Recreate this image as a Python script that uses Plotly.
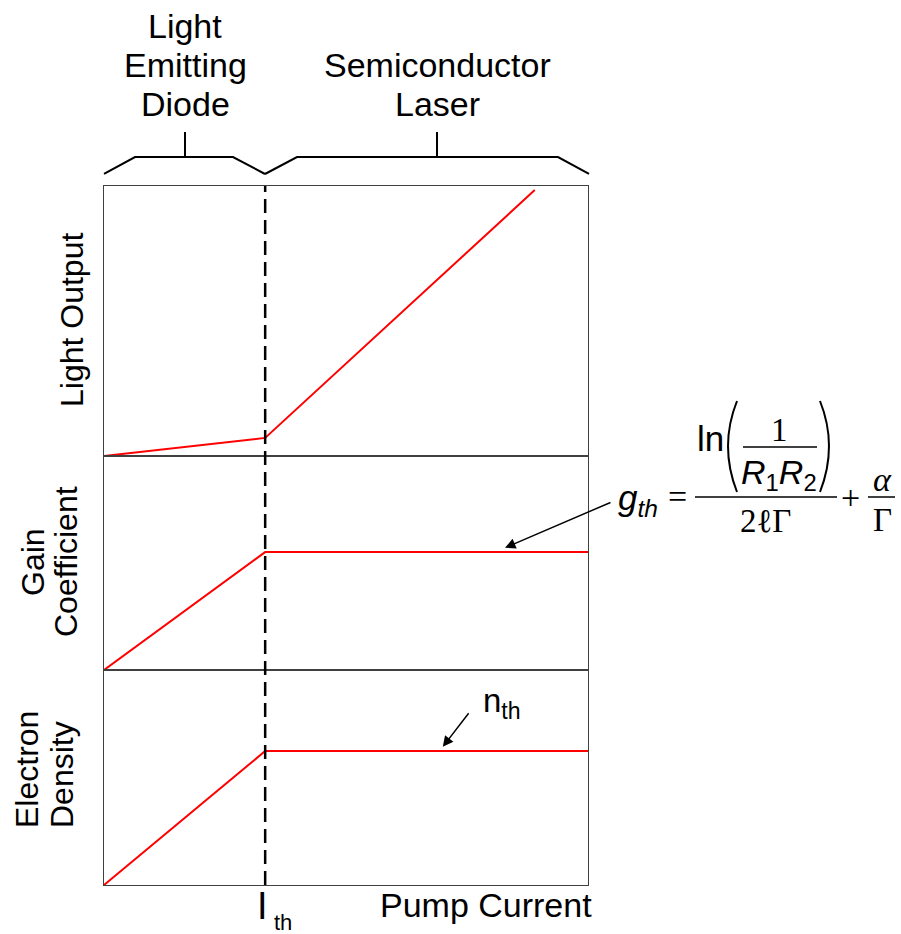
import plotly.graph_objects as go
from plotly.subplots import make_subplots

# ---------------- data (normalised units) ----------------
I_TH = 0.333                       # threshold current (fraction of axis)
light_x = [0.0, I_TH, 0.89]
light_y = [0.0, 0.067, 0.985]
gain_x = [0.0, I_TH, 1.0]
gain_y = [0.0, 0.551, 0.551]
dens_x = [0.0, I_TH, 1.0]
dens_y = [0.0, 0.623, 0.623]
panel_labels = ["Light Output", ["Gain", "Coefficient"], ["Electron", "Density"]]
region_labels = [["Light", "Emitting", "Diode"], ["Semiconductor", "Laser"]]

# ---------------- layout geometry ----------------
W, H = 901, 934
ML, MR, MT, MB = 104, 313, 186, 49
PW, PH = W - ML - MR, H - MT - MB


def px(x):
    return (x - ML) / PW


def py(y):
    return (H - MB - y) / PH


SANS = "Arial, Liberation Sans, sans-serif"
SERIF = "Times New Roman, Liberation Serif, serif"
RED = "#ff0000"

fig = make_subplots(rows=3, cols=1, shared_xaxes=True, vertical_spacing=0,
                    row_heights=[270, 214, 215])

fig.add_trace(go.Scatter(x=light_x, y=light_y, mode="lines",
                         line=dict(color=RED, width=2)), row=1, col=1)
fig.add_trace(go.Scatter(x=gain_x, y=gain_y, mode="lines",
                         line=dict(color=RED, width=2)), row=2, col=1)
fig.add_trace(go.Scatter(x=dens_x, y=dens_y, mode="lines",
                         line=dict(color=RED, width=2)), row=3, col=1)

axstyle = dict(range=[0, 1], showline=True, mirror=True, linecolor="#404040",
               linewidth=1, showticklabels=False, ticks="", showgrid=False,
               zeroline=False, fixedrange=True)
for r in (1, 2, 3):
    fig.update_xaxes(axstyle, row=r, col=1)
    fig.update_yaxes(axstyle, row=r, col=1)

shapes = []
# threshold dashed line
shapes.append(dict(type="line", xref="x", yref="paper", x0=I_TH, x1=I_TH,
                   y0=0, y1=1, line=dict(color="black", width=2.5, dash="14px,7px")))


def path(points):
    return "M " + " L ".join(f"{px(a):.5f},{py(b):.5f}" for a, b in points)


bk = dict(type="path", xref="paper", yref="paper", line=dict(color="black", width=2))
shapes.append(dict(bk, path=path([(104, 174), (135, 157), (233, 157), (265, 174)])))
shapes.append(dict(bk, path=path([(185, 157), (185, 132)])))
shapes.append(dict(bk, path=path([(265, 174), (297, 157), (558, 157), (589, 174)])))
shapes.append(dict(bk, path=path([(437, 157), (437, 132)])))

# formula lines
fl = dict(type="line", xref="paper", yref="paper", line=dict(color="black", width=1.5))
shapes.append(dict(fl, x0=px(695), x1=px(837), y0=py(497), y1=py(497)))
shapes.append(dict(fl, x0=px(743), x1=px(817), y0=py(447), y1=py(447)))
shapes.append(dict(fl, x0=px(868), x1=px(895), y0=py(497), y1=py(497)))
# parentheses
shapes.append(dict(type="path", xref="paper", yref="paper", line=dict(color="black", width=2),
                   path=f"M {px(737)},{py(401)} Q {px(719)},{py(446)} {px(737)},{py(492)}"))
shapes.append(dict(type="path", xref="paper", yref="paper", line=dict(color="black", width=2),
                   path=f"M {px(820)},{py(401)} Q {px(838)},{py(446)} {px(820)},{py(492)}"))

ann = []


def txt(text, x, y, size=32, family=SANS, angle=0):
    ann.append(dict(text=text, x=px(x), y=py(y), xref="paper", yref="paper",
                    xanchor="center", yanchor="middle", showarrow=False,
                    textangle=angle, font=dict(family=family, size=size, color="black")))


# region labels above
for i, t in enumerate(region_labels[0]):
    txt(t, 185, 26 + 39 * i, size=34)
for i, t in enumerate(region_labels[1]):
    txt(t, 437, 65 + 39 * i, size=34)

# panel labels
txt(panel_labels[0], 72, 320, size=32, angle=-90)
txt(panel_labels[1][0], 33, 562, size=32, angle=-90)
txt(panel_labels[1][1], 66, 562, size=32, angle=-90)
txt(panel_labels[2][0], 27, 770, size=32, angle=-90)
txt(panel_labels[2][1], 62, 775, size=32, angle=-90)

# x labels
txt("I", 262, 906, size=38)
txt("th", 283, 922, size=22)
txt("Pump Current", 486, 905, size=34)

# n_th
txt("n<sub>th</sub>", 502, 703, size=33)

# formula
txt("<i>g</i><sub><i>th</i></sub>", 638, 500, size=35)
txt("=", 677, 496, size=34, family=SERIF)
txt("ln", 710, 438, size=35)
txt("1", 779, 430, size=33, family=SERIF)
txt("<i>R</i><sub>1</sub><i>R</i><sub>2</sub>", 779, 474, size=34)
txt("2ℓΓ", 765, 521, size=33, family=SERIF)
txt("+", 850, 497, size=34, family=SERIF)
txt("<i>α</i>", 882, 480, size=34, family=SERIF)
txt("Γ", 882, 520, size=33, family=SERIF)

# arrows
ann.append(dict(x=0.8285, y=gain_y[-1] + 0.02, xref="x2", yref="y2", text="",
                showarrow=True, arrowhead=2, arrowsize=1.4, arrowwidth=1.5,
                arrowcolor="black", ax=107, ay=-46))
ann.append(dict(x=0.700, y=dens_y[-1] + 0.02, xref="x3", yref="y3", text="",
                showarrow=True, arrowhead=2, arrowsize=1.4, arrowwidth=1.5,
                arrowcolor="black", ax=27, ay=-35))

fig.update_layout(width=W, height=H, margin=dict(l=ML, r=MR, t=MT, b=MB),
                  paper_bgcolor="white", plot_bgcolor="white", showlegend=False,
                  shapes=shapes, annotations=ann, font=dict(family=SANS))

fig.write_html("out.html", config={"displayModeBar": False},
               post_script="document.body.style.margin='0';document.body.style.overflow='hidden';")
